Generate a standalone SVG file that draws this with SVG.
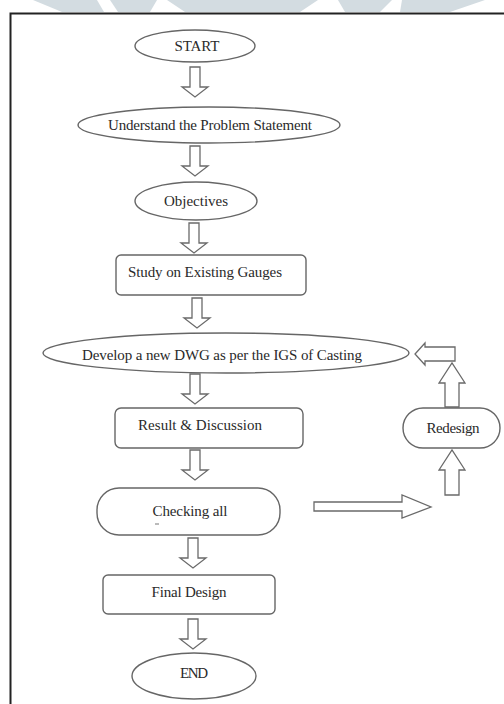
<svg xmlns="http://www.w3.org/2000/svg" xmlns:xlink="http://www.w3.org/1999/xlink" width="504" height="704" viewBox="0 0 504 704">
<style>
.sh{fill:#fff;stroke:#666;stroke-width:1.4}
.ar{fill:#fff;stroke:#6a6a6a;stroke-width:1.3;stroke-linejoin:miter}
.t{font-family:"Liberation Serif","Times New Roman",serif;font-size:15px;fill:#2a2a2a;text-anchor:middle;dominant-baseline:central}
.wm{fill:#d3dce1}
</style>
<defs>
<path id="down" d="M-5,0 h10 v20 h8 l-13,10 l-13,-10 h8 z"/>
</defs>
<rect width="504" height="704" fill="#fff"/>
<g id="watermark">
<polygon class="wm" points="33,0 97,0 104,12 62,12"/>
<polygon class="wm" points="110,0 157,0 150,12 118,12"/>
<polygon class="wm" points="167,0 318,0 300,12 185,12"/>
<polygon class="wm" points="338,0 392,0 380,12 345,12"/>
<polygon class="wm" points="402,0 485,0 450,12 400,12"/>
</g>
<rect id="frame" x="10.5" y="13.5" width="600" height="800" fill="none" stroke="#222" stroke-width="2"/>
<g id="connectors">
<use xlink:href="#down" href="#down" class="ar" transform="translate(195,67)"/>
<use xlink:href="#down" href="#down" class="ar" transform="translate(195,146)"/>
<use xlink:href="#down" href="#down" class="ar" transform="translate(194,223)"/>
<use xlink:href="#down" href="#down" class="ar" transform="translate(197,298)"/>
<use xlink:href="#down" href="#down" class="ar" transform="translate(195,374)"/>
<use xlink:href="#down" href="#down" class="ar" transform="translate(195,450)"/>
<use xlink:href="#down" href="#down" class="ar" transform="translate(193,538)"/>
<use xlink:href="#down" href="#down" class="ar" transform="translate(193,619)"/>
<path class="ar" d="M314,502 h88 v-7 l29,12 l-29,11 v-7 h-88 z"/>
<path class="ar" d="M445,495 v-25 h-6 l13,-20 l13,20 h-6 v25 z"/>
<path class="ar" d="M445,407 v-24 h-6 l13,-20 l13,20 h-6 v24 z"/>
<path class="ar" d="M455,347 h-30 v-4 l-10,11 l10,11 v-4 h30 z"/>
</g>
<g id="start"><ellipse class="sh" cx="195" cy="46" rx="60" ry="16"/><text class="t" x="197" y="46" textLength="45">START</text></g>
<g id="understand"><ellipse class="sh" cx="209" cy="125" rx="131" ry="18"/><text class="t" x="210" y="125" textLength="204">Understand the Problem Statement</text></g>
<g id="objectives"><ellipse class="sh" cx="196" cy="201" rx="61" ry="19"/><text class="t" x="196" y="201" textLength="64">Objectives</text></g>
<g id="study"><rect class="sh" x="116" y="255" width="190" height="40" rx="5"/><text class="t" x="205" y="272" textLength="154">Study on Existing Gauges</text></g>
<g id="develop"><ellipse class="sh" cx="226" cy="353" rx="183" ry="20"/><text class="t" x="222" y="355" textLength="280">Develop a new DWG as per the IGS of Casting</text></g>
<g id="result"><rect class="sh" x="115" y="408" width="188" height="40" rx="6"/><text class="t" x="200" y="425" textLength="124">Result &amp; Discussion</text></g>
<g id="redesign"><rect class="sh" x="403" y="408" width="97" height="40" rx="20"/><text class="t" x="453" y="428" textLength="53">Redesign</text></g>
<g id="checking"><rect class="sh" x="97" y="488" width="183" height="47" rx="22"/><text class="t" x="190" y="511" textLength="75">Checking all</text><line x1="155" y1="524" x2="159" y2="524" stroke="#777" stroke-width="1"/></g>
<g id="final"><rect class="sh" x="103" y="575" width="172" height="39" rx="5"/><text class="t" x="189" y="592" textLength="75">Final Design</text></g>
<g id="end"><ellipse class="sh" cx="194" cy="676" rx="62" ry="23"/><text class="t" x="194" y="673" textLength="28">END</text></g>
</svg>
